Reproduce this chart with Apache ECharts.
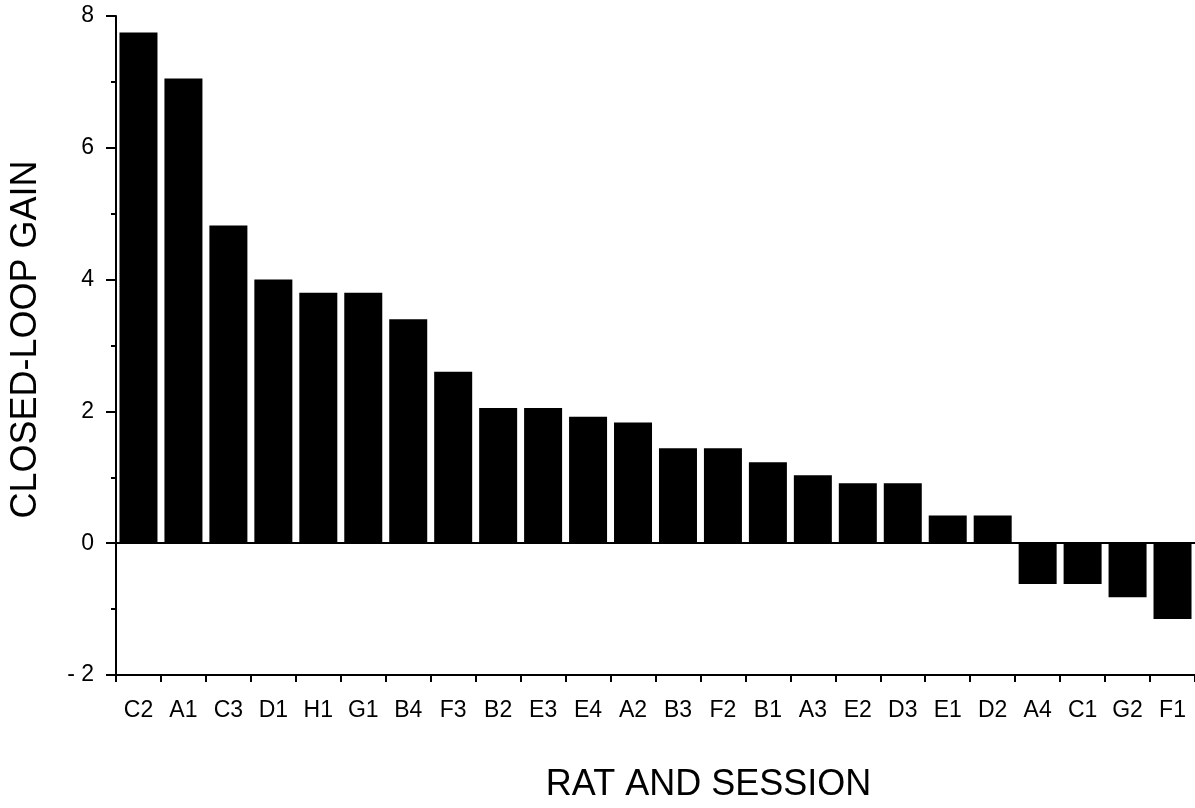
<!DOCTYPE html>
<html>
<head>
<meta charset="utf-8">
<script src="https://cdn.jsdelivr.net/npm/echarts@6/dist/echarts.min.js"></script>
<style>
html,body{margin:0;padding:0;background:#fff;}
#chart{width:1195px;height:808px;}
</style>
</head>
<body>
<div id="chart"></div>
<script>
const categories = ['C2','A1','C3','D1','H1','G1','B4','F3','B2','E3','E4','A2','B3','F2','B1','A3','E2','D3','E1','D2','A4','C1','G2','F1'];
const gainValues = [7.75, 7.05, 4.82, 4.0, 3.8, 3.8, 3.4, 2.6, 2.05, 2.05, 1.92, 1.83, 1.44, 1.44, 1.23, 1.03, 0.91, 0.91, 0.42, 0.42, -0.62, -0.62, -0.82, -1.15];
const yTickLabels = {'-2': '- 2', '0': '0', '2': '2', '4': '4', '6': '6', '8': '8'};
const xTitle = 'RAT AND SESSION';
const yTitle = 'CLOSED-LOOP GAIN';

const font = '"Liberation Sans", Arial, sans-serif';
const chart = echarts.init(document.getElementById('chart'));
chart.setOption({
  animation: false,
  backgroundColor: '#fff',
  grid: {left: 113, right: 0, top: 16, bottom: 130, containLabel: false},
  xAxis: {
    type: 'category',
    data: categories,
    name: xTitle,
    nameLocation: 'middle',
    nameGap: 92,
    nameTextStyle: {fontSize: 36, color: '#000', fontFamily: font, padding: [0, 0, 0, 106]},
    axisLine: {onZero: false, lineStyle: {color: '#000', width: 2}},
    axisTick: {show: true, length: 7, lineStyle: {color: '#000', width: 2}},
    axisLabel: {color: '#000', fontSize: 23, fontFamily: font, margin: 24, interval: 0}
  },
  yAxis: {
    type: 'value',
    min: -2, max: 8, interval: 2,
    name: yTitle,
    nameLocation: 'middle',
    nameGap: 72,
    nameRotate: 90,
    nameTextStyle: {fontSize: 36, color: '#000', fontFamily: font, padding: [0, 0, 0, 12]},
    axisLine: {show: true, lineStyle: {color: '#000', width: 2}},
    axisTick: {show: true, length: 10, lineStyle: {color: '#000', width: 2}},
    minorTick: {show: true, splitNumber: 2, length: 5, lineStyle: {color: '#000', width: 2}},
    splitLine: {show: false},
    axisLabel: {color: '#000', fontSize: 23, fontFamily: font, margin: 22,
      formatter: v => yTickLabels[String(v)] !== undefined ? yTickLabels[String(v)] : String(v)}
  },
  series: [{
    type: 'bar',
    data: gainValues,
    barWidth: 38,
    itemStyle: {color: '#000'},
    markLine: {
      silent: true,
      symbol: ['none', 'none'],
      label: {show: false},
      lineStyle: {color: '#000', width: 2, type: 'solid'},
      data: [{yAxis: 0}]
    }
  }]
});
</script>
</body>
</html>
